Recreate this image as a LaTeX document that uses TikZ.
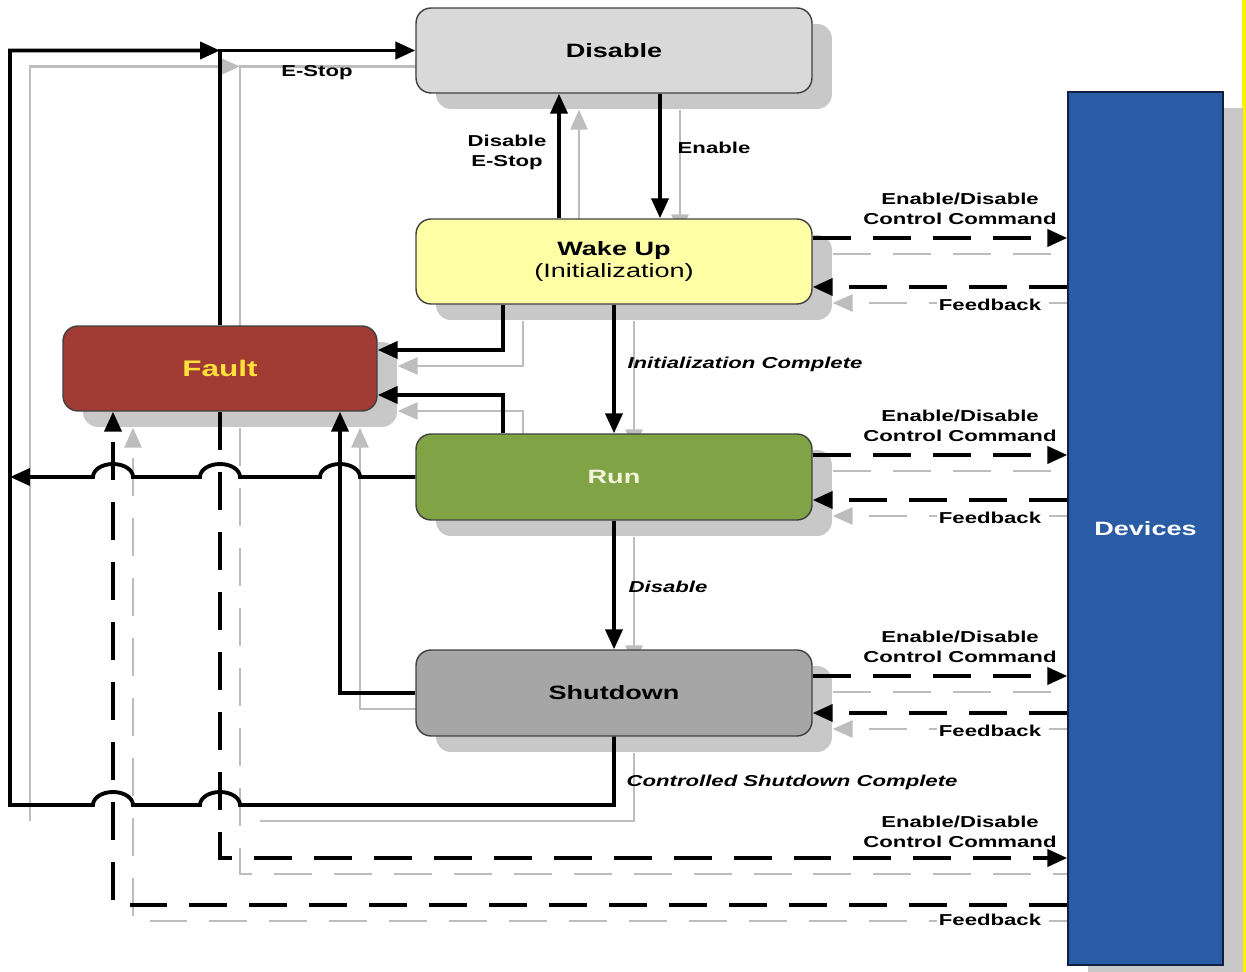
\documentclass[tikz,border=0pt]{standalone}
\usepackage{fontspec}
\setmainfont[FakeStretch=1.4]{Liberation Sans}
\usetikzlibrary{arrows.meta,shadows,backgrounds}

\definecolor{disfill}{HTML}{D9D9D9}
\definecolor{wakefill}{HTML}{FFFFA6}
\definecolor{faultfill}{HTML}{A03C33}
\definecolor{faulttxt}{HTML}{FFE03A}
\definecolor{runfill}{HTML}{80A346}
\definecolor{runtxt}{HTML}{F4F4DC}
\definecolor{shutfill}{HTML}{A6A6A6}
\definecolor{devfill}{HTML}{2A5CA6}
\definecolor{devdraw}{HTML}{102040}
\definecolor{shgray}{HTML}{C8C8C8}
\definecolor{twingray}{HTML}{BDBDBD}
\definecolor{edgeyellow}{HTML}{FFF200}

\begin{document}
\begin{tikzpicture}[x=0.02cm,y=-0.02cm,
    state/.style={draw=black!75, line width=0.8pt, rounded corners=0.3cm,
        minimum width=7.92cm, minimum height=1.7cm, align=center,
        font=\fontsize{11}{13}\selectfont\bfseries,
        drop shadow={shadow xshift=0.4cm, shadow yshift=-0.32cm, fill=shgray, opacity=1}},
    headtip/.style={-{Triangle[length=0.4cm,width=0.34cm]}},
    wire/.style={draw=black, line width=2.2pt, headtip},
    dwire/.style={wire, dash pattern=on 0.76cm off 0.44cm},
    twin/.style={draw=twingray, line width=1.6pt, headtip, transform canvas={xshift=0.4cm, yshift=-0.32cm}},
    dtwin/.style={twin, dash pattern=on 0.76cm off 0.44cm},
    lbl/.style={font=\fontsize{9}{11.4}\selectfont\bfseries, align=center, inner sep=1pt},
    ilbl/.style={lbl, font=\fontsize{9}{11.4}\selectfont\bfseries\itshape},
    fblbl/.style={lbl, fill=white}]

    \useasboundingbox (0,0) rectangle (1246,972);
    \fill[edgeyellow] (1242,0) rectangle (1246,972);

    % states
    \node[state, fill=disfill] (dis) at (614,50.5) {Disable};
    \node[state, fill=wakefill] (wake) at (614,261.5) {Wake Up\\\mdseries(Initialization)};
    \node[state, fill=faultfill, text=faulttxt, minimum width=6.28cm,
        font=\fontsize{12.8}{15}\selectfont\bfseries] (fault) at (220,368.5) {Fault};
    \node[state, fill=runfill, text=runtxt, minimum height=1.72cm] (run) at (614,477) {Run};
    \node[state, fill=shutfill, minimum height=1.72cm] (shut) at (614,693) {Shutdown};
    \node[state, sharp corners, fill=devfill, draw=devdraw, text=white,
        minimum width=3.1cm, minimum height=17.46cm] (dev) at (1145.5,528.5) {Devices};

    % wire corners
    \coordinate (outer) at (10,50.5);
    \coordinate (csw) at (10,805);
    \coordinate (enx) at (660,0);
    \coordinate (dsx) at (559,0);
    \coordinate (wfx) at (503,350);
    \coordinate (rfx) at (503,395);
    \coordinate (sfx) at (340,0);
    \coordinate (fcx) at (220,858);
    \coordinate (fbx) at (113,905);

    \draw[wire] (dis.south -| enx) -- (wake.north -| enx);
    \draw[wire] (wake.north -| dsx) -- (dis.south -| dsx);
    \draw[wire] (wake.south) -- (run.north);
    \draw[wire] (run.south) -- (shut.north);
    \draw[wire] (fault.north) |- (dis.west);
    \draw[wire] (wake.south -| wfx) |- (fault.east |- wfx);
    \draw[wire] (run.north -| rfx) |- (fault.east |- rfx);
    \draw[wire] (shut.west) -| (fault.south -| sfx);
    \draw[wire] (run.west) -- (360,477) arc[start angle=0,end angle=-180,x radius=20,y radius=13]
        -- (240,477) arc[start angle=0,end angle=-180,x radius=20,y radius=13]
        -- (133,477) arc[start angle=0,end angle=-180,x radius=20,y radius=13]
        -- (run.west -| outer);
    \draw[wire] (shut.south) |- (240,805) arc[start angle=0,end angle=-180,x radius=20,y radius=13]
        -- (133,805) arc[start angle=0,end angle=-180,x radius=20,y radius=13]
        -- (csw) -- (outer) -- (fault.north |- dis.west);
    \draw[dwire] (fault.south) |- (dev.west |- fcx);
    \draw[dwire] (dev.west |- fbx) -| (fault.south -| fbx);

    \foreach \s/\cy/\fy in {wake/238/287, run/455/500, shut/676/713} {
        \draw[dwire] (\s.east |- 0,\cy) -- (dev.west |- 0,\cy);
        \draw[dwire] (dev.west |- 0,\fy) -- (\s.east |- 0,\fy);
        \node[lbl] (cmd\s) at (960,\cy-29) {Enable/Disable\\Control Command};
        \node[fblbl] (fb\s) at (990,\fy+18) {Feedback};
        \begin{scope}[on background layer]
            \draw[dtwin] (\s.east |- 0,\cy) -- (dev.west |- 0,\cy);
            \draw[dtwin] (dev.west |- 0,\fy) -- (\s.east |- 0,\fy);
        \end{scope}
    }

    % shadow wires
    \begin{scope}[on background layer]
        \draw[twin] (dis.south -| enx) -- (wake.north -| enx);
        \draw[twin] (wake.north -| dsx) -- (dis.south -| dsx);
        \draw[twin] (wake.south) -- (run.north);
        \draw[twin] (run.south) -- (shut.north);
        \draw[twin] (fault.north) |- (dis.west);
        \draw[twin] (wake.south -| wfx) |- (fault.east |- wfx);
        \draw[twin] (run.north -| rfx) |- (fault.east |- rfx);
        \draw[twin] (shut.west) -| (fault.south -| sfx);
        \draw[twin, -] (shut.south) |- (240,805);
        \draw[twin] (csw) -- (outer) -- (fault.north |- dis.west);
        \draw[dtwin] (fault.south) |- (dev.west |- fcx);
        \draw[dtwin] (dev.west |- fbx) -| (fault.south -| fbx);
    \end{scope}

    % labels
    \node[lbl] (lestop) at (317,73) {E-Stop};
    \node[lbl] (ldisstop) at (507,152) {Disable\\E-Stop};
    \node[lbl] (lenable) at (714,148) {Enable};
    \node[ilbl] (linit) at (745,364) {Initialization Complete};
    \node[ilbl] (ldisable) at (668,587) {Disable};
    \node[ilbl] (lcsc) at (792,782) {Controlled Shutdown Complete};
    \node[lbl] (cmdfault) at (960,832) {Enable/Disable\\Control Command};
    \node[fblbl] (fbfault) at (990,920) {Feedback};
\end{tikzpicture}
\end{document}
